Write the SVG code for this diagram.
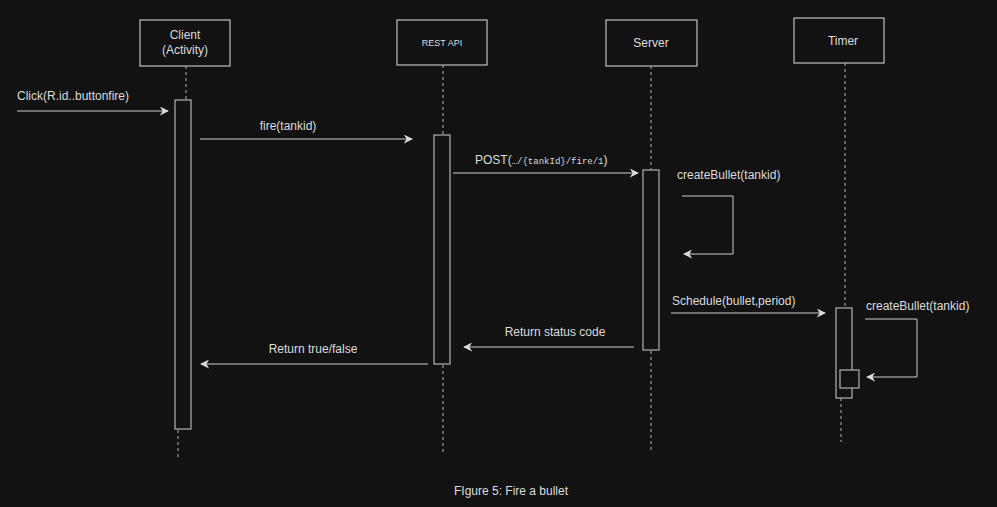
<svg xmlns="http://www.w3.org/2000/svg" width="997" height="507" viewBox="0 0 997 507">
<style>
.bg{fill:#121212}
.box{fill:#121212;stroke:#b3b3b3;stroke-width:1.3}
.act{fill:#121212;stroke:#a6a6a6;stroke-width:1.3}
.life{stroke:#b3b3b3;stroke-width:1;stroke-dasharray:3,3;fill:none}
.msg{stroke:#cccccc;stroke-width:1;fill:none}
text{font-family:"Liberation Sans",Arial,sans-serif;font-size:12px;fill:#dcdcdc}
.mono{font-family:"Liberation Mono","DejaVu Sans Mono",monospace;font-size:9px}
</style>
<defs>
<marker id="ah" viewBox="0 0 10 10" refX="9" refY="5" markerWidth="9" markerHeight="9" markerUnits="userSpaceOnUse" orient="auto">
<path d="M0,0 L10,5 L0,10 L3,5 Z" fill="#dcdcdc"/>
</marker>
</defs>
<rect class="bg" x="0" y="0" width="997" height="507"/>
<g id="lifelines">
<line class="life" x1="186" y1="66" x2="186" y2="100"/>
<line class="life" x1="178" y1="430" x2="178" y2="458"/>
<line class="life" x1="443" y1="65" x2="443" y2="135"/>
<line class="life" x1="443" y1="365" x2="443" y2="452"/>
<line class="life" x1="651" y1="66" x2="651" y2="170"/>
<line class="life" x1="651" y1="351" x2="651" y2="450"/>
<line class="life" x1="845" y1="63" x2="845" y2="308"/>
<line class="life" x1="841" y1="398" x2="841" y2="442"/>
</g>
<g id="client">
<rect class="box" x="140" y="20" width="90" height="46"/>
<text x="185" y="39" text-anchor="middle">Client</text>
<text x="185" y="54" text-anchor="middle">(Activity)</text>
<rect class="act" x="175" y="100" width="16" height="329"/>
</g>
<g id="restapi">
<rect class="box" x="397" y="20" width="90" height="45"/>
<text x="442" y="46" text-anchor="middle" style="font-size:9px">REST API</text>
<rect class="act" x="434" y="135" width="16" height="229"/>
</g>
<g id="server">
<rect class="box" x="606" y="20" width="91" height="46"/>
<text x="651" y="47" text-anchor="middle">Server</text>
<rect class="act" x="643" y="170" width="16" height="180"/>
</g>
<g id="timer">
<rect class="box" x="794" y="18" width="90" height="45"/>
<text x="843" y="45" text-anchor="middle">Timer</text>
<rect class="act" x="836" y="308" width="16" height="90"/>
<rect class="act" x="840" y="370" width="19" height="18"/>
</g>
<g id="connectors">
<line class="msg" x1="17" y1="111" x2="168" y2="111" marker-end="url(#ah)"/>
<text x="17" y="100">Click(R.id..buttonfire)</text>
<line class="msg" x1="200" y1="139" x2="412" y2="139" marker-end="url(#ah)"/>
<text x="288" y="130" text-anchor="middle">fire(tankid)</text>
<line class="msg" x1="453" y1="173" x2="638" y2="173" marker-end="url(#ah)"/>
<text x="475" y="164">POST(<tspan class="mono">…/{tankId}/fire/1</tspan>)</text>
<text x="677" y="179">createBullet(tankid)</text>
<polyline class="msg" points="682,196 733,196 733,254 684,254" marker-end="url(#ah)"/>
<line class="msg" x1="671" y1="313" x2="825" y2="313" marker-end="url(#ah)"/>
<text x="672" y="305">Schedule(bullet,period)</text>
<text x="866" y="310">createBullet(tankid)</text>
<polyline class="msg" points="865,319 917,319 917,377 867,377" marker-end="url(#ah)"/>
<line class="msg" x1="634" y1="347" x2="464" y2="347" marker-end="url(#ah)"/>
<text x="555" y="336" text-anchor="middle">Return status code</text>
<line class="msg" x1="428" y1="364" x2="201" y2="364" marker-end="url(#ah)"/>
<text x="313" y="353" text-anchor="middle">Return true/false</text>
</g>
<text x="511" y="495" text-anchor="middle">FIgure 5: Fire a bullet</text>
</svg>
